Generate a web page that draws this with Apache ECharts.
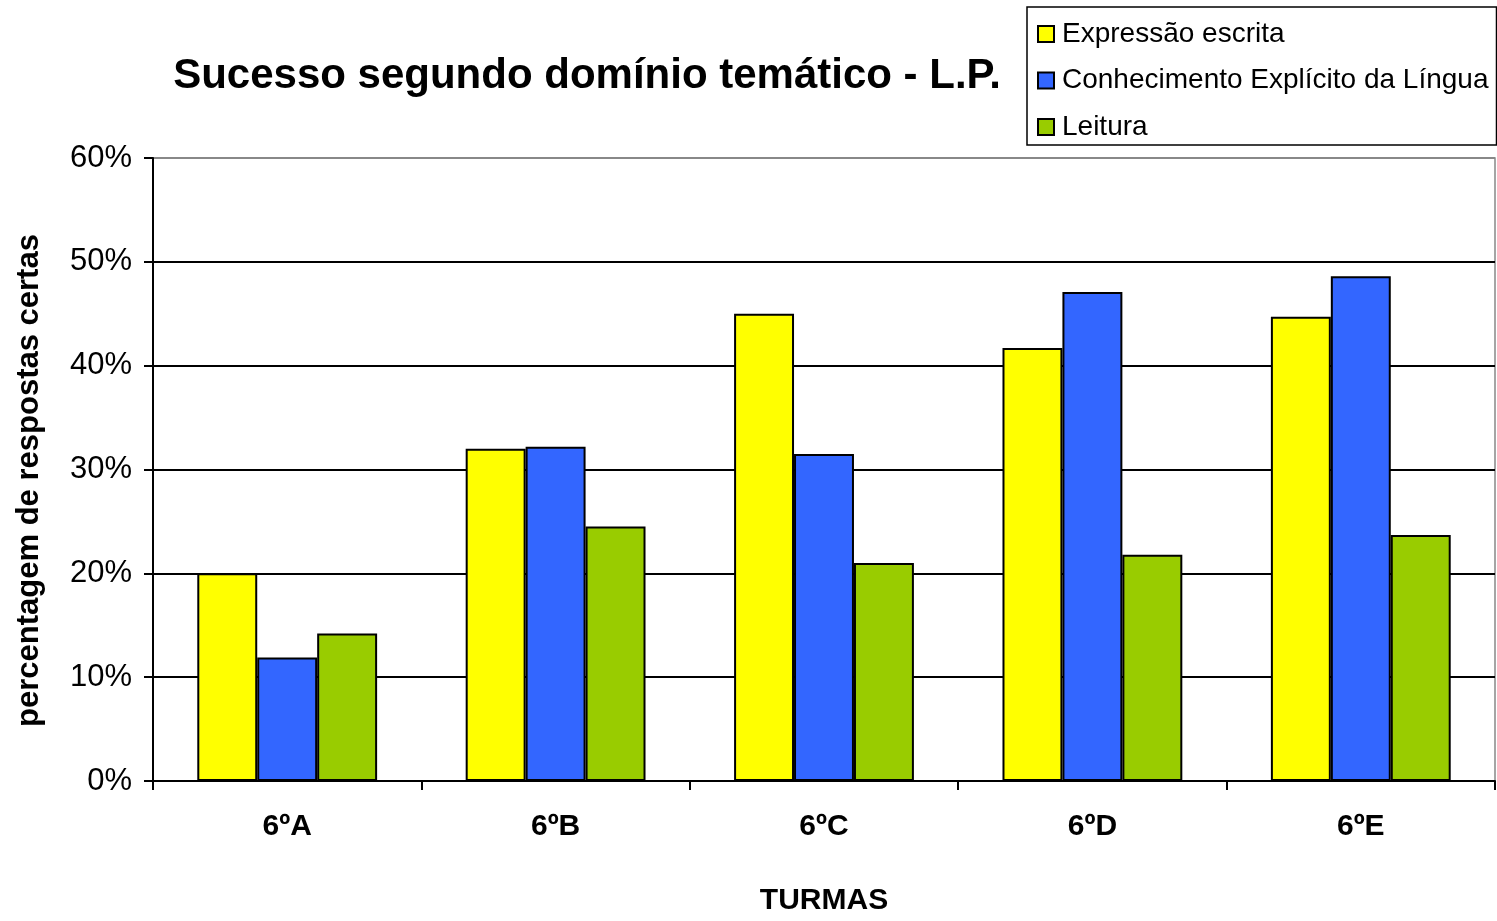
<!DOCTYPE html>
<html>
<head>
<meta charset="utf-8">
<script src="https://cdn.jsdelivr.net/npm/echarts@6/dist/echarts.min.js"></script>
<style>
html,body{margin:0;padding:0;background:#fff;overflow:hidden;}
#c{width:1497px;height:921px;}
</style>
</head>
<body>
<div id="c"></div>
<script>
const categories = ['6ºA', '6ºB', '6ºC', '6ºD', '6ºE'];
const seriesNames = ['Expressão escrita', 'Conhecimento Explícito da Língua', 'Leitura'];
const expressao = [20.0, 32.0, 45.0, 41.7, 44.7];
const conhecimento = [11.9, 32.2, 31.5, 47.1, 48.6];
const leitura = [14.2, 24.5, 21.0, 21.8, 23.7];
const colors = ['#FFFF00', '#3366FF', '#99CC00'];

const FONT = '"Liberation Sans", Arial, sans-serif';
const chart = echarts.init(document.getElementById('c'));
const H = chart.getHeight();
const seriesData = [expressao, conhecimento, leitura];

chart.setOption({
  animation: false,
  textStyle: { fontFamily: FONT },
  title: {
    text: 'Sucesso segundo domínio temático - L.P.',
    left: 582, top: 50, textAlign: 'center',
    textStyle: { fontFamily: FONT, fontSize: 42, fontWeight: 'bold', color: '#000' }
  },
  legend: {
    orient: 'vertical',
    left: 1027, top: 7,
    padding: [13, 8, 4, 10],
    itemGap: 18.5,
    itemWidth: 16, itemHeight: 16,
    icon: 'rect',
    borderColor: '#000', borderWidth: 1.5,
    textStyle: { fontFamily: FONT, fontSize: 28, color: '#000', padding: [0, 0, 0, 3] },
    data: seriesNames
  },
  grid: {
    left: 153, right: 2, top: 158, bottom: H - 788,
    show: true, borderColor: '#888', borderWidth: 1.5, backgroundColor: 'transparent'
  },
  xAxis: {
    type: 'category',
    data: categories,
    name: 'TURMAS',
    nameLocation: 'middle',
    nameGap: 105,
    nameTextStyle: { fontFamily: FONT, fontSize: 30, fontWeight: 'bold', color: '#000' },
    axisLine: { lineStyle: { color: '#000', width: 2 } },
    axisTick: { show: true, length: 9, lineStyle: { color: '#000', width: 2 } },
    axisLabel: { fontFamily: FONT, fontSize: 30, fontWeight: 'bold', color: '#000', margin: 31 }
  },
  yAxis: {
    type: 'value',
    min: 0, max: 60, interval: 10,
    name: 'percentagem de respostas certas',
    nameLocation: 'middle',
    nameGap: 108,
    nameRotate: 90,
    nameTextStyle: { fontFamily: FONT, fontSize: 31, fontWeight: 'bold', color: '#000', padding: [0, 22, 0, 0] },
    axisLine: { show: true, lineStyle: { color: '#000', width: 2 } },
    axisTick: { show: true, length: 9, lineStyle: { color: '#000', width: 2 } },
    axisLabel: { fontFamily: FONT, fontSize: 31, color: '#000', margin: 21, formatter: '{value}%' },
    splitLine: { show: true, lineStyle: { color: ['#000', '#000', '#000', '#000', '#000', '#000', '#888'], width: 2 } }
  },
  series: seriesNames.map((n, i) => ({
    name: n,
    type: 'bar',
    data: seriesData[i],
    barGap: '0%',
    barCategoryGap: '33%',
    itemStyle: { color: colors[i], borderColor: '#000', borderWidth: 2 }
  }))
});
</script>
</body>
</html>
